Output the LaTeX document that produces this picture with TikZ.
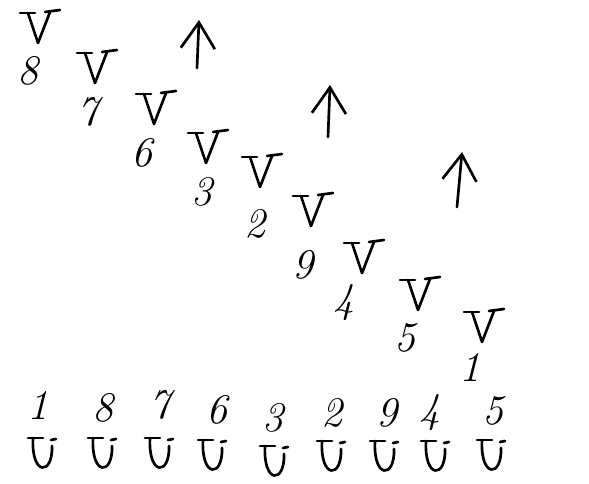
\documentclass[tikz,border=0pt]{standalone}
\usepackage{tikz}
\usetikzlibrary{arrows.meta,positioning}

\begin{document}
\begin{tikzpicture}[
    x=0.025cm, y=-0.025cm,
    every node/.style={font=\fontsize{30}{34}\selectfont\itshape},
    pen/.style={line width=1.9pt, line cap=round, line join=round},
    digit/.style={inner sep=0pt},
    vmark/.pic={
        \draw[pen] (-20,0) -- (-5,0);
        \draw[pen] (5,-1) -- (20,-3);
        \draw[pen] (-12,0) -- (-2,30) -- (10,-1);
    },
    cupmark/.pic={
        \draw[pen] (-12,0) -- (3,0);
        \draw[pen] (-7,0) .. controls (-9,38) and (13,38) .. (12,8);
        \draw[pen] (11,2) -- (16,1);
    },
    arrow/.style={pen, -{Straight Barb[length=0.65cm,width=0.85cm,line width=1.9pt]}}
]
\useasboundingbox (0,0) rectangle (589,484);

% Nodes
\pic (v8) at (40,13) {vmark};
\node[digit] (n8) at (28,71) {8};
\pic (v7) at (97,53) {vmark};
\node[digit] (n7) at (88,112) {7};
\pic (v6) at (156,94) {vmark};
\node[digit] (n6) at (142,153) {6};
\pic (v3) at (208,133) {vmark};
\node[digit] (n3) at (202,192) {3};
\pic (v2) at (262,157) {vmark};
\node[digit] (n2) at (255,224) {2};
\pic (v9) at (313,196) {vmark};
\node[digit] (n9) at (303,265) {9};
\pic (v4) at (364,243) {vmark};
\node[digit] (n4) at (344,303) {4};
\pic (v5) at (420,280) {vmark};
\node[digit] (n5) at (405,338) {5};
\pic (v1) at (484,312) {vmark};
\node[digit] (n1) at (470,367) {1};

% bottom row
\node[digit] (b1) at (38,405) {1};
\node[digit] (b8) at (103,408) {8};
\node[digit] (b7) at (160,405) {7};
\node[digit] (b6) at (217,410) {6};
\node[digit] (b3) at (273,418) {3};
\node[digit] (b2) at (332,413) {2};
\node[digit] (b9) at (387,413) {9};
\node[digit] (b4) at (430,413) {4};
\node[digit] (b5) at (493,411) {5};
\pic (c1) at (40,438) {cupmark};
\pic (c8) at (100,438) {cupmark};
\pic (c7) at (157,438) {cupmark};
\pic (c6) at (210,440) {cupmark};
\pic (c3) at (272,446) {cupmark};
\pic (c2) at (329,441) {cupmark};
\pic (c9) at (382,441) {cupmark};
\pic (c4) at (433,441) {cupmark};
\pic (c5) at (489,440) {cupmark};

% Arrows
\coordinate (a1s) at (197,68);
\coordinate (a1e) at (199,20);
\coordinate (a2s) at (328,137);
\coordinate (a2e) at (330,85);
\coordinate (a3s) at (457,207);
\coordinate (a3e) at (462,152);
\draw[arrow] (a1s) -- (a1e);
\draw[arrow] (a2s) -- (a2e);
\draw[arrow] (a3s) -- (a3e);

\end{tikzpicture}
\end{document}
